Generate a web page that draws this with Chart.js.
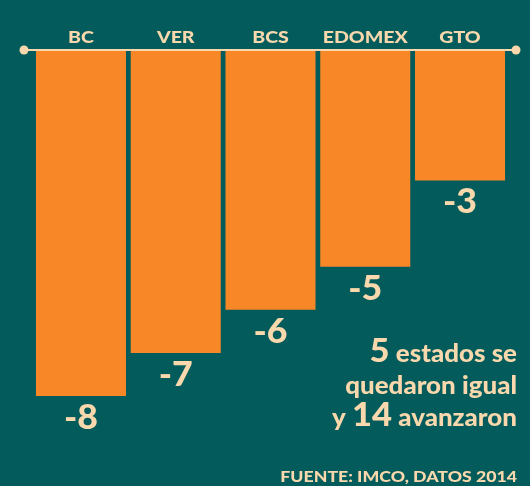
<!DOCTYPE html>
<html lang="es">
<head>
    <meta charset="UTF-8">
    <title>Estados que retrocedieron</title>
    <script src="https://cdn.jsdelivr.net/npm/chart.js"></script>
    <style>
        html, body { margin: 0; padding: 0; background: #045b5b; }
        canvas { display: block; }
    </style>
</head>
<body>
    <canvas id="grafica" width="530" height="486"></canvas>

    <script>
        // datos
        const estados = ['BC', 'VER', 'BCS', 'EDOMEX', 'GTO'];
        const cambios = [-8, -7, -6, -5, -3];

        const fondo = '#045b5b';
        const naranja = '#f78727';
        const crema = '#f8d8ac';
        const fuente = 'Lato, "Open Sans", sans-serif';

        // texto ensanchado (la tipografia original es mas ancha)
        function texto(ctx, t, x, y, align, font, sx) {
            ctx.font = font;
            const w = ctx.measureText(t).width * sx;
            let izq = x;
            if (align === 'center') izq = x - w / 2;
            if (align === 'right') izq = x - w;
            ctx.save();
            ctx.textAlign = 'left';
            ctx.translate(izq, y);
            ctx.scale(sx, 1);
            ctx.fillText(t, 0, 0);
            ctx.restore();
            return w;
        }

        // linea superior, nombres y valores
        const etiquetas = {
            id: 'etiquetas',
            afterDatasetsDraw(chart) {
                const { ctx, scales } = chart;
                const x = scales.x, y = scales.y;
                const y0 = y.getPixelForValue(0) - 1;

                ctx.save();
                ctx.strokeStyle = crema;
                ctx.fillStyle = crema;
                ctx.lineWidth = 2;
                ctx.beginPath();
                ctx.moveTo(24, y0);
                ctx.lineTo(516, y0);
                ctx.stroke();
                [24, 516].forEach(px => {
                    ctx.beginPath();
                    ctx.arc(px, y0, 4.5, 0, Math.PI * 2);
                    ctx.fill();
                });

                ctx.textBaseline = 'alphabetic';
                estados.forEach((nombre, i) => {
                    const cx = x.getPixelForValue(i);
                    texto(ctx, nombre, cx, 43, 'center', '900 17px ' + fuente, 1.15);
                    const fondoBarra = y.getPixelForValue(cambios[i]);
                    texto(ctx, '-' + Math.abs(cambios[i]), cx, fondoBarra + 33, 'center', '900 34px ' + fuente, 1.05);
                });

                // nota a la derecha
                const renglones = [
                    [['5', 32], [' estados se', 24]],
                    [['quedaron igual', 24]],
                    [['y ', 24], ['14', 32], [' avanzaron', 24]]
                ];
                const bases = [362, 394, 426];
                const sx = 1.08;
                renglones.forEach((partes, r) => {
                    let ancho = 0;
                    partes.forEach(([t, s]) => {
                        ctx.font = '900 ' + s + 'px ' + fuente;
                        ancho += ctx.measureText(t).width * sx;
                    });
                    let px = 517 - ancho;
                    partes.forEach(([t, s]) => {
                        px += texto(ctx, t, px, bases[r], 'left', '900 ' + s + 'px ' + fuente, sx);
                    });
                });

                texto(ctx, 'FUENTE: IMCO, DATOS 2014', 517, 482, 'right', '900 15px ' + fuente, 1.18);
                ctx.restore();
            }
        };

        const ctx = document.getElementById('grafica').getContext('2d');
        const grafica = new Chart(ctx, {
            type: 'bar',
            data: {
                labels: estados,
                datasets: [{
                    data: cambios,
                    backgroundColor: naranja,
                    borderWidth: 0,
                    barPercentage: 0.95,
                    categoryPercentage: 1
                }]
            },
            options: {
                responsive: false,
                animation: false,
                layout: { padding: { top: 51, bottom: 90, left: 33.6, right: 22.6 } },
                plugins: {
                    legend: { display: false },
                    tooltip: { enabled: false }
                },
                scales: {
                    x: { display: false },
                    y: { display: false, min: -8, max: 0 }
                }
            },
            plugins: [etiquetas]
        });
    </script>
</body>
</html>
